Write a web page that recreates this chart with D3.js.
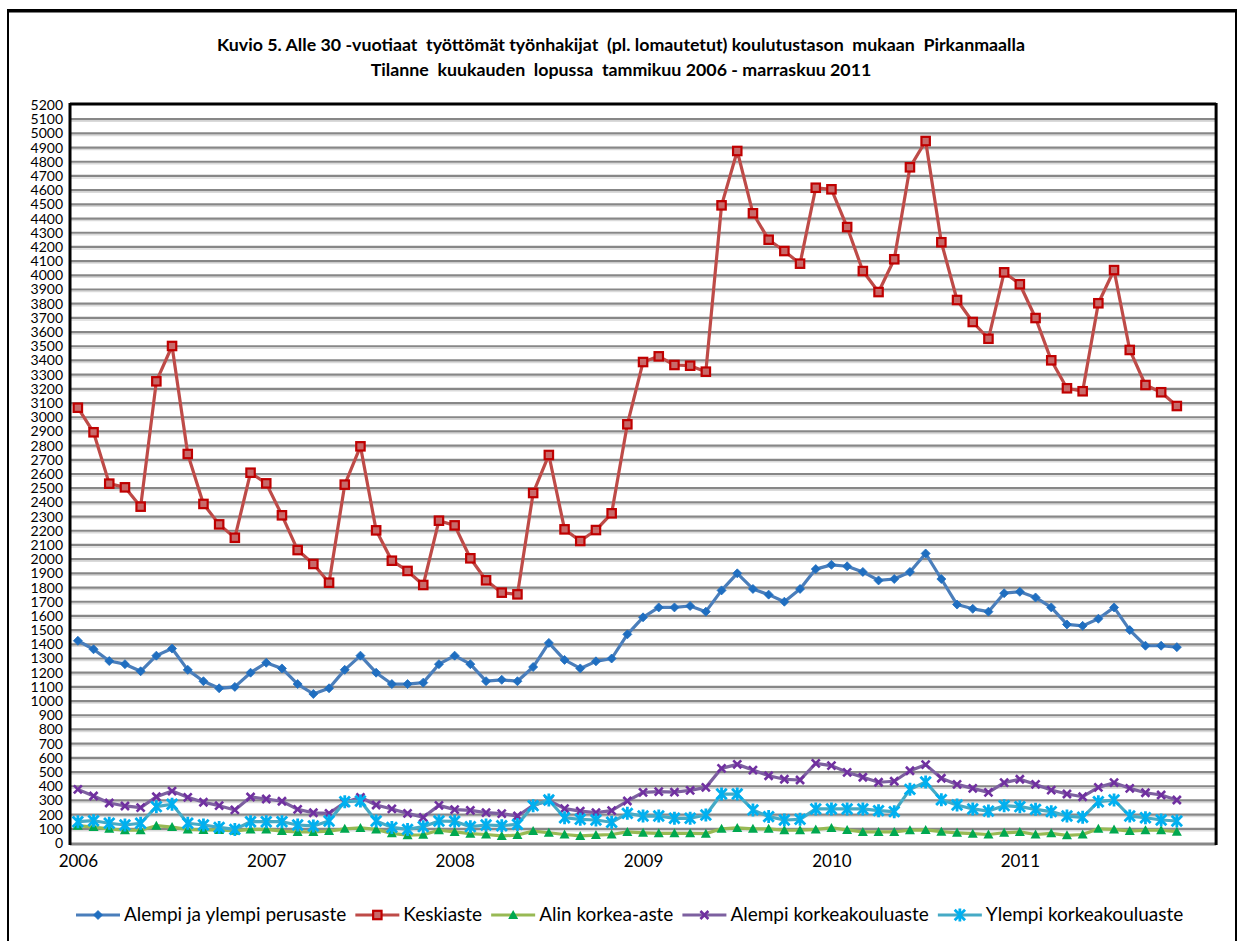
<!DOCTYPE html>
<html><head><meta charset="utf-8">
<script src="https://cdn.jsdelivr.net/npm/d3@7"></script>
<style>body{margin:0;background:#fff}svg{display:block}</style>
</head><body>
<svg id="c" width="1243" height="941"></svg>
<script>
// ---- data ----
const yearLabels = ["2006","2007","2008","2009","2010","2011"];
const categories = [];
yearLabels.forEach(y => { for (let m = 1; m <= 12; m++) { if (!(y === "2011" && m > 11)) categories.push(y + "-" + String(m).padStart(2,"0")); } });
const yTicks = d3.range(0, 5201, 100);

const perusaste = [1425,1365,1282,1260,1210,1320,1370,1220,1140,1090,1100,1200,1270,1230,1120,1050,1090,1220,1320,1200,1120,1120,1130,1260,1320,1260,1140,1150,1140,1240,1410,1290,1230,1280,1300,1470,1590,1660,1660,1670,1630,1780,1900,1790,1750,1700,1790,1930,1960,1950,1910,1850,1860,1910,2040,1860,1680,1650,1630,1760,1770,1730,1660,1540,1530,1580,1660,1500,1390,1390,1380];
const keskiaste = [3067,2894,2532,2506,2370,3253,3502,2741,2389,2245,2151,2609,2534,2309,2064,1966,1834,2525,2795,2203,1989,1917,1818,2271,2238,2006,1851,1764,1752,2466,2734,2210,2128,2205,2323,2950,3389,3429,3368,3363,3321,4493,4876,4437,4251,4171,4082,4617,4606,4340,4030,3882,4113,4761,4946,4233,3826,3671,3553,4021,3937,3699,3401,3204,3183,3803,4037,3474,3227,3176,3079];
const alinKorkea = [122,112,100,90,90,122,112,96,92,92,86,96,96,84,78,78,84,100,106,96,68,55,58,90,78,66,60,50,56,84,72,60,50,56,60,78,72,68,68,68,66,100,106,100,100,90,90,96,106,92,78,78,78,90,92,80,72,66,60,72,78,60,68,54,60,100,96,84,90,90,80];
const alempiKorkeakoulu = [378,331,282,261,249,326,366,322,287,263,233,324,310,294,237,213,209,285,322,268,240,209,181,265,235,230,214,207,190,265,300,242,225,214,228,296,357,362,359,371,392,526,554,514,474,449,444,561,545,498,463,428,435,509,552,456,413,385,357,425,449,413,373,345,326,392,425,385,354,338,303];
const ylempiKorkeakoulu = [150,157,139,127,139,256,273,139,127,110,96,150,150,150,127,120,155,291,296,155,110,96,115,155,153,115,127,122,131,263,303,178,167,162,146,209,190,190,174,174,197,345,345,233,186,162,167,240,240,240,240,228,221,378,430,305,268,240,225,263,256,237,221,190,181,291,303,190,178,162,155];

const seriesNames = ["Alempi ja ylempi perusaste","Keskiaste","Alin korkea-aste","Alempi korkeakouluaste","Ylempi korkeakouluaste"];
const seriesData = [perusaste, keskiaste, alinKorkea, alempiKorkeakoulu, ylempiKorkeakoulu];
const lineColors = ["#4A7EBB","#BE4B48","#98B954","#7D60A0","#46AAC5"];
const markColors = ["#1F6EC0","#C00000","#00A84F","#7030A0","#00B0F0"];
const markTypes = ["diamond","square","triangle","x","star"];

// ---- layout ----
const svg = d3.select("#c");
const plotL = 70, plotT = 105, plotB = 843;
const x = d3.scaleLinear().domain([0, 73]).range([plotL, plotL + 73 * 15.70]);
const plotR = x(73);
const y = d3.scaleLinear().domain([0, 5200]).range([plotB, plotT]);
const px = i => x(i + 0.5);

// outer border
svg.append("rect").attr("x", 8).attr("y", 10).attr("width", 1228).attr("height", 940)
  .attr("fill", "#fff").attr("stroke", "#000").attr("stroke-width", 2);
svg.append("line").attr("x1", 8).attr("x2", 1236).attr("y1", 11).attr("y2", 11).attr("stroke", "#000").attr("stroke-width", 3);

// title
const title = svg.append("text").attr("text-anchor", "middle").attr("font-family", "Lato, 'Liberation Sans', sans-serif")
  .attr("font-weight", "bold").attr("font-size", 17.8).attr("fill", "#000").style("white-space", "pre");
title.append("tspan").attr("x", 621).attr("y", 51).text("Kuvio 5. Alle 30 -vuotiaat  työttömät työnhakijat  (pl. lomautetut) koulutustason  mukaan  Pirkanmaalla");
title.append("tspan").attr("x", 621).attr("y", 76).text("Tilanne  kuukauden  lopussa  tammikuu 2006 - marraskuu 2011");

// gridlines
const grid = svg.append("g");
yTicks.filter(t => t > 0 && t < 5200).forEach(t => {
  grid.append("line").attr("x1", plotL).attr("x2", plotR).attr("y1", y(t) + 2).attr("y2", y(t) + 2)
    .attr("stroke", "#dadada").attr("stroke-width", 1.5);
  grid.append("line").attr("x1", plotL).attr("x2", plotR).attr("y1", y(t)).attr("y2", y(t))
    .attr("stroke", "#878787").attr("stroke-width", 2.2);
});
// bottom axis (gray)
svg.append("line").attr("x1", plotL).attr("x2", plotR).attr("y1", plotB + 1).attr("y2", plotB + 1)
  .attr("stroke", "#878787").attr("stroke-width", 3);
// frame black
svg.append("line").attr("x1", plotL).attr("x2", plotR).attr("y1", plotT - 1).attr("y2", plotT - 1).attr("stroke", "#000").attr("stroke-width", 3);
svg.append("line").attr("x1", plotL).attr("x2", plotL).attr("y1", plotT - 2).attr("y2", plotB + 2).attr("stroke", "#000").attr("stroke-width", 3);
svg.append("line").attr("x1", plotR).attr("x2", plotR).attr("y1", plotT - 2).attr("y2", plotB + 2).attr("stroke", "#000").attr("stroke-width", 3);

// y axis labels
const yAxis = d3.axisLeft(y).tickValues(yTicks).tickSize(0).tickPadding(7).tickFormat(d3.format("d"));
const ya = svg.append("g").attr("transform", `translate(${plotL},0)`).call(yAxis);
ya.select(".domain").remove();
ya.selectAll("text").attr("font-family", "Lato, sans-serif").attr("font-size", 14).attr("fill", "#000");

// x axis year labels
const yearIdx = yearLabels.map(yl => categories.indexOf(yl + "-01"));
const xAxis = d3.axisBottom(x).tickValues(yearIdx.map(i => i + 0.5)).tickSize(0).tickPadding(12)
  .tickFormat((d, i) => yearLabels[i]);
const xa = svg.append("g").attr("transform", `translate(0,${plotB})`).call(xAxis);
xa.select(".domain").remove();
xa.selectAll("text").attr("font-family", "Lato, sans-serif").attr("font-size", 17).attr("fill", "#000");

// markers
function drawMarker(g, type, cx, cy, color, s) {
  s = s || 1;
  if (type === "diamond") {
    const r = 4.5 * s;
    g.append("path").attr("d", `M${cx},${cy - r}L${cx + r},${cy}L${cx},${cy + r}L${cx - r},${cy}Z`).attr("fill", color).attr("stroke", color).attr("stroke-width", 0.8);
  } else if (type === "square") {
    const r = 4.2 * s;
    g.append("rect").attr("x", cx - r).attr("y", cy - r).attr("width", 2 * r).attr("height", 2 * r)
      .attr("fill", "#C86A6A").attr("stroke", color).attr("stroke-width", 2.2);
  } else if (type === "triangle") {
    const r = 5 * s;
    g.append("path").attr("d", `M${cx},${cy - r}L${cx + r},${cy + r * 0.8}L${cx - r},${cy + r * 0.8}Z`).attr("fill", color);
  } else if (type === "x") {
    const r = 4 * s;
    g.append("path").attr("d", `M${cx - r},${cy - r}L${cx + r},${cy + r}M${cx - r},${cy + r}L${cx + r},${cy - r}`)
      .attr("stroke", color).attr("stroke-width", 2.6).attr("fill", "none");
  } else if (type === "star") {
    const r = 6.5 * s;
    const a = r * 0.8;
    g.append("path").attr("d", `M${cx - a},${cy - a}L${cx + a},${cy + a}M${cx - a},${cy + a}L${cx + a},${cy - a}M${cx},${cy - r}L${cx},${cy + r}`)
      .attr("stroke", color).attr("stroke-width", 2.8).attr("fill", "none");
  }
}

const line = d3.line().x((d, i) => px(i)).y(d => y(d));
seriesData.forEach((vals, si) => {
  const g = svg.append("g");
  g.append("path").attr("d", line(vals)).attr("fill", "none").attr("stroke", lineColors[si])
    .attr("stroke-width", 3.2).attr("stroke-linejoin", "round");
  vals.forEach((v, i) => drawMarker(g, markTypes[si], px(i), y(v), markColors[si]));
});

// legend
const lg = svg.append("g");
const legFont = "Lato, sans-serif", legSize = 19;
let lx = 76; const ly = 915;
seriesNames.forEach((name, si) => {
  lg.append("line").attr("x1", lx).attr("x2", lx + 44).attr("y1", ly).attr("y2", ly)
    .attr("stroke", lineColors[si]).attr("stroke-width", 3.2);
  drawMarker(lg, markTypes[si], lx + 22, ly, markColors[si]);
  const t = lg.append("text").attr("x", lx + 48).attr("y", ly + 6).attr("font-family", legFont)
    .attr("font-size", legSize).attr("fill", "#000").text(name);
  lx += 48 + t.node().getComputedTextLength() + 9;
});
</script>
</body></html>
